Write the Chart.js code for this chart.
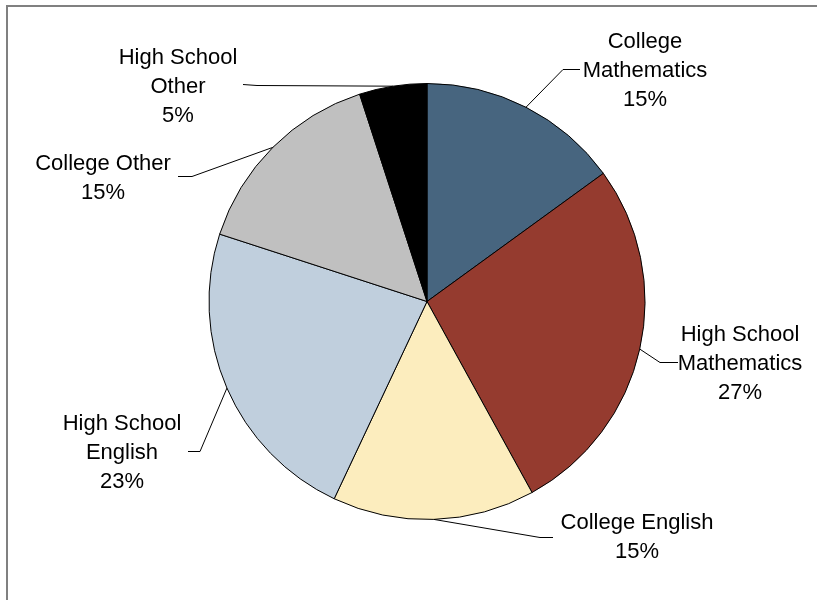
<!DOCTYPE html>
<html>
<head>
<meta charset="utf-8">
<script src="https://cdn.jsdelivr.net/npm/chart.js@4"></script>
<style>
    html, body { margin: 0; padding: 0; background: #fff; }
    #wrap { position: relative; width: 817px; height: 600px; }
</style>
</head>
<body>
<div id="wrap"><canvas id="pieChart" width="817" height="600"></canvas></div>
<script>
/* =========================================================
   DATA
========================================================= */
const categories = [
    'College Mathematics',
    'High School Mathematics',
    'College English',
    'High School English',
    'College Other',
    'High School Other'
];
const shares = [15, 27, 15, 23, 15, 5];

// label text split into lines (last line = percent)
const labelLines = [
    ['College', 'Mathematics'],
    ['High School', 'Mathematics'],
    ['College English'],
    ['High School', 'English'],
    ['College Other'],
    ['High School', 'Other']
];

const sliceColors = ['#47657F', '#953B2F', '#FCEDBE', '#C0CFDD', '#C0C0C0', '#000000'];

/* =========================================================
   LABEL PLACEMENT (offsets from pie centre, px)
========================================================= */
const labelPlace = [
    { elbow: [136, -232], end: [153, -232], text: [218, -231] },
    { elbow: [233, 61],   end: [251, 61],   text: [313, 62] },
    { elbow: [113, 236],  end: [126, 236],  text: [210, 236] },
    { elbow: [-227, 150], end: [-239, 150], text: [-305, 151] },
    { elbow: [-235, -125], end: [-249, -125], text: [-324, -123] },
    { elbow: [-170, -216], end: [-184, -217], text: [-249, -215] }
];

const fontSize = 22;
const lineHeight = 29;

/* =========================================================
   PLUGINS
========================================================= */
const frame = {
    id: 'frame',
    beforeDraw(chart) {
        const ctx = chart.ctx;
        ctx.save();
        ctx.fillStyle = '#fff';
        ctx.fillRect(0, 0, chart.width, chart.height);
        ctx.strokeStyle = '#808080';
        ctx.lineWidth = 2;
        ctx.beginPath();
        ctx.moveTo(7, chart.height);
        ctx.lineTo(7, 6);
        ctx.lineTo(chart.width, 6);
        ctx.stroke();
        ctx.restore();
    }
};

const outsideLabels = {
    id: 'outsideLabels',
    afterDatasetsDraw(chart) {
        const ctx = chart.ctx;
        const meta = chart.getDatasetMeta(0);
        const total = shares.reduce((a, b) => a + b, 0);

        ctx.save();
        meta.data.forEach((arc, i) => {
            const p = labelPlace[i];
            const cx = arc.x;
            const cy = arc.y;
            const mid = (arc.startAngle + arc.endAngle) / 2;
            const ax = cx + Math.cos(mid) * arc.outerRadius;
            const ay = cy + Math.sin(mid) * arc.outerRadius;

            // leader line
            ctx.strokeStyle = '#000';
            ctx.lineWidth = 1;
            ctx.beginPath();
            ctx.moveTo(ax, ay);
            ctx.lineTo(cx + p.elbow[0], cy + p.elbow[1]);
            ctx.lineTo(cx + p.end[0], cy + p.end[1]);
            ctx.stroke();

            // text
            const lines = labelLines[i].concat([Math.round(shares[i] / total * 100) + '%']);
            ctx.fillStyle = '#000';
            ctx.font = fontSize + 'px "Liberation Sans", Arial, sans-serif';
            ctx.textAlign = 'center';
            ctx.textBaseline = 'middle';
            const top = cy + p.text[1] - (lines.length - 1) * lineHeight / 2;
            lines.forEach((t, k) => {
                ctx.fillText(t, cx + p.text[0], top + k * lineHeight);
            });
        });
        ctx.restore();
    }
};

/* =========================================================
   CHART INIT
========================================================= */
new Chart(document.getElementById('pieChart'), {
    type: 'pie',
    data: {
        labels: categories,
        datasets: [{
            data: shares,
            backgroundColor: sliceColors,
            borderColor: '#000',
            borderWidth: 1,
            hoverOffset: 0
        }]
    },
    options: {
        responsive: false,
        animation: false,
        layout: {
            padding: { left: 190, right: 153, top: 83, bottom: 80 }
        },
        plugins: {
            legend: { display: false },
            tooltip: { enabled: false }
        }
    },
    plugins: [frame, outsideLabels]
});
</script>
</body>
</html>
